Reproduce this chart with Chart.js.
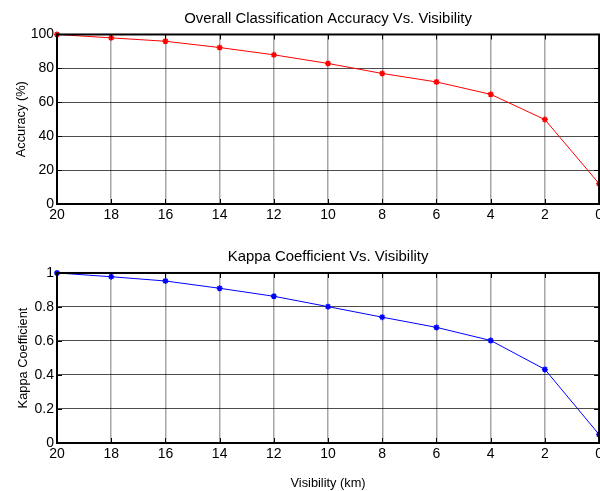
<!DOCTYPE html>
<html><head><meta charset="utf-8">
<script src="https://cdn.jsdelivr.net/npm/chart.js@4.4.1/dist/chart.umd.min.js"></script>
<style>
html,body{margin:0;padding:0;background:#fff;overflow:hidden;}
#wrap{position:relative;width:600px;height:491px;overflow:hidden;background:#fff;}
canvas{position:absolute;left:0;}
#c1{top:0;}
#c2{top:235px;}
</style></head>
<body>
<div id="wrap">
<canvas id="c1" width="606" height="230"></canvas>
<canvas id="c2" width="606" height="256"></canvas>
</div>
<script>
const visibility = [20, 18, 16, 14, 12, 10, 8, 6, 4, 2, 0];
const accuracy = [100, 98, 96, 92.3, 88, 82.9, 77, 72, 64.7, 49.8, 12];
const kappa = [1, 0.978, 0.953, 0.91, 0.863, 0.802, 0.74, 0.68, 0.603, 0.433, 0.05];

const FONT = "'Liberation Sans', Arial, Helvetica, sans-serif";

const framePlugin = {
  id: 'frame',
  afterDraw(chart) {
    const {ctx, chartArea: a, scales} = chart;
    ctx.save();
    ctx.strokeStyle = '#000';
    ctx.lineWidth = 1;
    const xs = scales.x, ys = scales.y;
    xs.ticks.forEach(t => {
      const px = Math.round(xs.getPixelForValue(t.value)) + 0.5;
      ctx.beginPath();
      ctx.moveTo(px, a.top); ctx.lineTo(px, a.top + 5);
      ctx.moveTo(px, a.bottom); ctx.lineTo(px, a.bottom - 5);
      ctx.stroke();
    });
    ys.ticks.forEach(t => {
      const py = Math.round(ys.getPixelForValue(t.value)) + 0.5;
      ctx.beginPath();
      ctx.moveTo(a.left, py); ctx.lineTo(a.left + 5, py);
      ctx.moveTo(a.right, py); ctx.lineTo(a.right - 5, py);
      ctx.stroke();
    });
    ctx.lineWidth = 2;
    ctx.strokeRect(a.left, a.top, a.right - a.left, a.bottom - a.top);
    ctx.restore();
  }
};

function makeChart(id, values, color, cfg) {
  const data = visibility.map((v, i) => ({x: v, y: values[i]}));
  return new Chart(document.getElementById(id), {
    type: 'line',
    data: { datasets: [{
      data,
      borderColor: color,
      backgroundColor: color,
      borderWidth: 1,
      pointStyle: 'star',
      pointRadius: 3,
      pointBorderWidth: 1.5,
      pointBorderColor: color,
      tension: 0,
      clip: false
    }]},
    options: {
      responsive: false,
      animation: false,
      devicePixelRatio: 1,
      layout: { padding: { left: 0, right: 0, top: 0, bottom: 0 } },
      plugins: {
        legend: { display: false },
        tooltip: { enabled: false },
        title: {
          display: true,
          fullSize: false,
          text: cfg.title,
          color: '#000',
          font: { family: FONT, size: 14.9, weight: 'normal', lineHeight: 1.2 },
          padding: cfg.titlePad
        }
      },
      scales: {
        x: {
          type: 'linear',
          reverse: true,
          min: 0, max: 20,
          ticks: { stepSize: 2, color: '#000', font: { family: FONT, size: 14 }, padding: 3, maxRotation: 0 },
          grid: { color: 'rgba(0,0,0,0.35)', lineWidth: 1.5, drawTicks: false },
          border: { display: false },
          title: cfg.xTitle ? { display: true, text: cfg.xTitle, color: '#000', font: { family: FONT, size: 12.8 }, padding: { top: 12, bottom: 0 } } : { display: false },
          afterFit(s) { s.height = cfg.xHeight; }
        },
        y: {
          min: cfg.yMin, max: cfg.yMax,
          ticks: { stepSize: cfg.yStep, color: '#000', font: { family: FONT, size: 14 }, padding: 3,
                   callback: v => String(+Number(v).toFixed(2)) },
          grid: { color: 'rgba(0,0,0,0.7)', lineWidth: 1, drawTicks: false },
          border: { display: false },
          title: { display: true, text: cfg.yTitle, color: '#000', font: { family: FONT, size: 12.8 }, padding: { top: cfg.yTitlePad, bottom: 0 } },
          afterFit(s) { s.width = 57; }
        }
      }
    },
    plugins: [framePlugin]
  });
}

makeChart('c1', accuracy, '#ff0000', {
  title: 'Overall Classification Accuracy Vs. Visibility',
  titlePad: { top: 9.8, bottom: 6.8 },
  xHeight: 26,
  yMin: 0, yMax: 100, yStep: 20,
  yTitle: 'Accuracy (%)',
  yTitlePad: 13.5
});
makeChart('c2', kappa, '#0000ff', {
  title: 'Kappa Coefficient Vs. Visibility',
  titlePad: { top: 13.3, bottom: 6.8 },
  xHeight: 48,
  xTitle: 'Visibility (km)',
  yMin: 0, yMax: 1, yStep: 0.2,
  yTitle: 'Kappa Coefficient',
  yTitlePad: 15.5
});
</script>
</body></html>
